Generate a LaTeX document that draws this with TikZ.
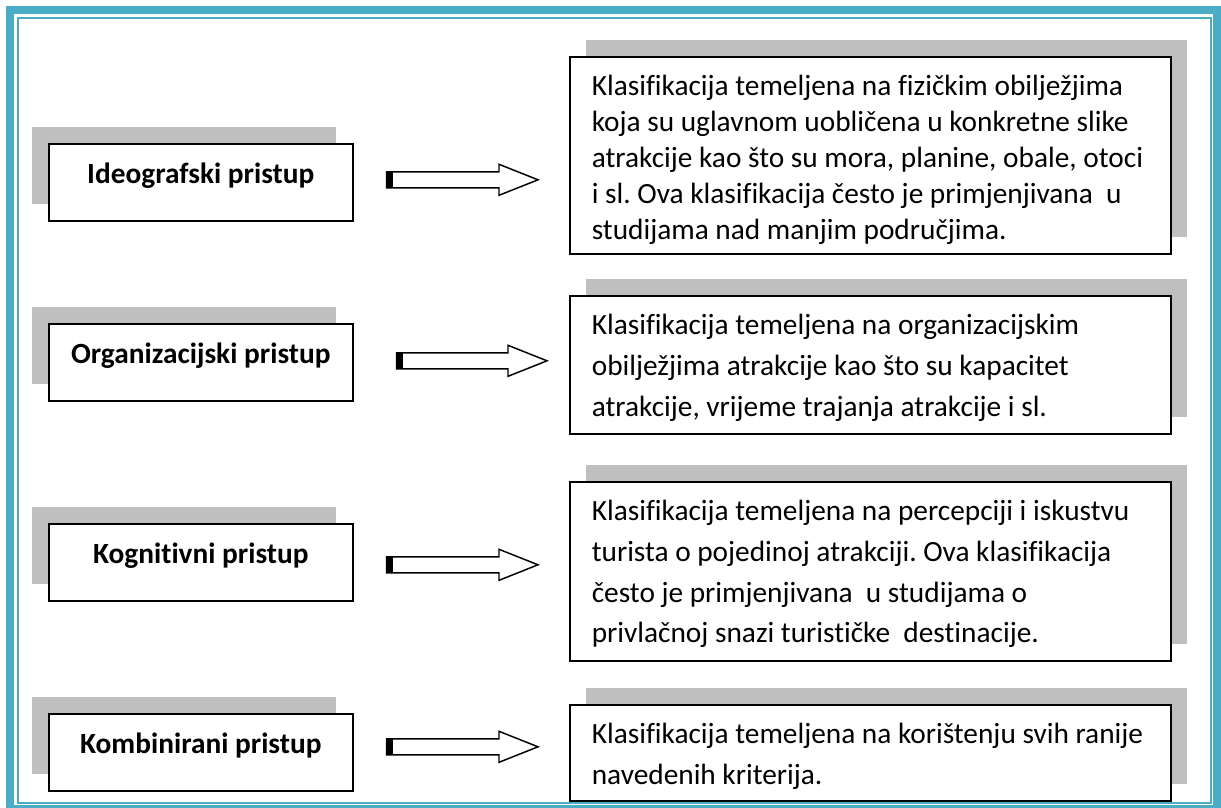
\documentclass[tikz,border=0pt]{standalone}
\usepackage{fontspec}
\setmainfont{Carlito}[Ligatures={NoCommon}]
\frenchspacing
\usetikzlibrary{calc,shadows}
\definecolor{pageframe}{HTML}{4BACC6}
\definecolor{shadowgray}{HTML}{BFBFBF}
\tikzstyle{approach} = [draw,line width=1.2pt,fill=white,anchor=north west,minimum width=228pt,inner sep=0pt,text height=30pt,text depth=27.75pt,font=\fontsize{22}{26}\selectfont\bfseries,drop shadow={shadow xshift=-12.75pt,shadow yshift=12.75pt,opacity=1,fill=shadowgray}]
\tikzstyle{description} = [draw,line width=1.2pt,fill=white,anchor=north west,text width=417.75pt,inner xsep=16.5pt,inner ysep=0pt,text height=29.25pt,align=flush left,font=\fontsize{22}{30.5}\selectfont,drop shadow={shadow xshift=12.5pt,shadow yshift=12.75pt,opacity=1,fill=shadowgray}]
\newcommand{\blockarrow}[2]{%
  \draw[line width=1.1pt,fill=white] ($(#1)+(0,-8)$) -- ($(#2)+(-39,-8)$) -- ($(#2)+(-39,-15.5)$) -- (#2) -- ($(#2)+(-39,15.5)$) -- ($(#2)+(-39,8)$) -- ($(#1)+(0,8)$) -- cycle;
  \fill ($(#1)+(0,-8)$) rectangle ($(#1)+(6,8)$);}

\begin{document}
\begin{tikzpicture}[x=0.75pt,y=-0.75pt]
      \useasboundingbox (0,0) rectangle (1221,807);
      \draw[pageframe,line width=6pt] (10,9.5) rectangle (1217,809);
      \draw[pageframe,line width=1.5pt] (17.5,17.5) rectangle (1210.5,803);

      \node (a1)[approach] at (48,143) {Ideografski pristup};
      \node (a2)[approach] at (48,323) {Organizacijski pristup};
      \node (a3)[approach] at (48,523) {Kognitivni pristup};
      \node (a4)[approach] at (48,713) {Kombinirani pristup};

      \node (d1)[description,text depth=118.5pt,font=\fontsize{22}{26.85}\selectfont] at (569,56) {Klasifikacija temeljena na fizičkim obilježjima\\ koja su uglavnom uobličena u konkretne slike\\ atrakcije kao što su mora, planine, obale, otoci\\ i sl. Ova klasifikacija često je primjenjivana~ u\\ studijama nad manjim područjima.};
      \node (d2)[description,text depth=74.25pt] at (569,295) {Klasifikacija temeljena na organizacijskim\\ obilježjima atrakcije kao što su kapacitet\\ atrakcije, vrijeme trajanja atrakcije i sl.};
      \node (d3)[description,text depth=105pt] at (569,481) {Klasifikacija temeljena na percepciji i iskustvu\\ turista o pojedinoj atrakciji. Ova klasifikacija\\ često je primjenjivana~ u studijama o\\ privlačnoj snazi turističke~ destinacije.};
      \node (d4)[description,text depth=42.75pt] at (569,704) {Klasifikacija temeljena na korištenju svih ranije\\ navedenih kriterija.};

      \coordinate (t1) at ($(a1.east)+(33,-2.5)$);
      \coordinate (h1) at ($(d1.west |- t1)+(-31,0)$);
      \coordinate (t2) at ($(a2.east)+(43,-1.5)$);
      \coordinate (h2) at ($(d2.west |- t2)+(-22,0)$);
      \coordinate (t3) at ($(a3.east)+(33,2.5)$);
      \coordinate (h3) at ($(d3.west |- t3)+(-31,0)$);
      \coordinate (t4) at ($(a4.east)+(33,-5.5)$);
      \coordinate (h4) at ($(d4.west |- t4)+(-31,0)$);

      \blockarrow{t1}{h1}
      \blockarrow{t2}{h2}
      \blockarrow{t3}{h3}
      \blockarrow{t4}{h4}
\end{tikzpicture}
\end{document}
